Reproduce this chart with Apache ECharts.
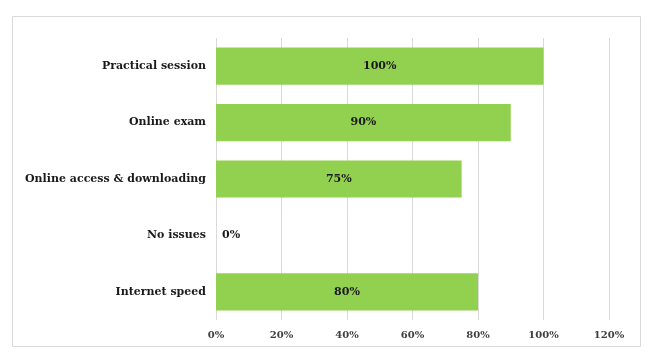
<!DOCTYPE html>
<html><head><meta charset="utf-8">
<script src="https://cdn.jsdelivr.net/npm/echarts@6/dist/echarts.min.js"></script>
<style>html,body{margin:0;padding:0;background:#fff}#c{width:654px;height:356px}</style>
</head><body><div id="c"></div>
<script>
const categories = ["Internet speed", "No issues", "Online access & downloading", "Online exam", "Practical session"];
const values = [80, 0, 75, 90, 100];
const tickLabels = ["0%", "20%", "40%", "60%", "80%", "100%", "120%"];

const font = "'DejaVu Serif', 'Liberation Serif', serif";
const chart = echarts.init(document.getElementById('c'));
chart.setOption({
  animation: false,
  backgroundColor: '#fff',
  graphic: [{type: 'rect', shape: {x: 12.5, y: 16.5, width: 628, height: 330}, style: {fill: 'none', stroke: '#d9d9d9', lineWidth: 1}, silent: true}],
  grid: {left: 216, right: 45, top: 38, bottom: 36},
  xAxis: {
    type: 'value', min: 0, max: 120, interval: 20,
    axisLine: {show: false}, axisTick: {show: false},
    splitLine: {lineStyle: {color: '#d9d9d9'}},
    axisLabel: {margin: 10, fontFamily: font, fontWeight: 'bold', fontSize: 10, color: '#404040',
      formatter: v => tickLabels[Math.round(v / 20)]}
  },
  yAxis: {
    type: 'category', data: categories,
    axisLine: {show: false}, axisTick: {show: false},
    axisLabel: {margin: 10, fontFamily: font, fontWeight: 'bold', fontSize: 11, color: '#1a1a1a'}
  },
  series: [{
    type: 'bar', barCategoryGap: '34%',
    itemStyle: {color: '#92D050'},
    data: values.map(v => v === 0 ? {value: v, label: {position: 'right', distance: 6}} : v),
    label: {show: true, position: 'inside', formatter: p => p.value + '%', fontFamily: font, fontWeight: 'bold', fontSize: 11, color: '#1a1a1a'}
  }]
});
</script></body></html>
